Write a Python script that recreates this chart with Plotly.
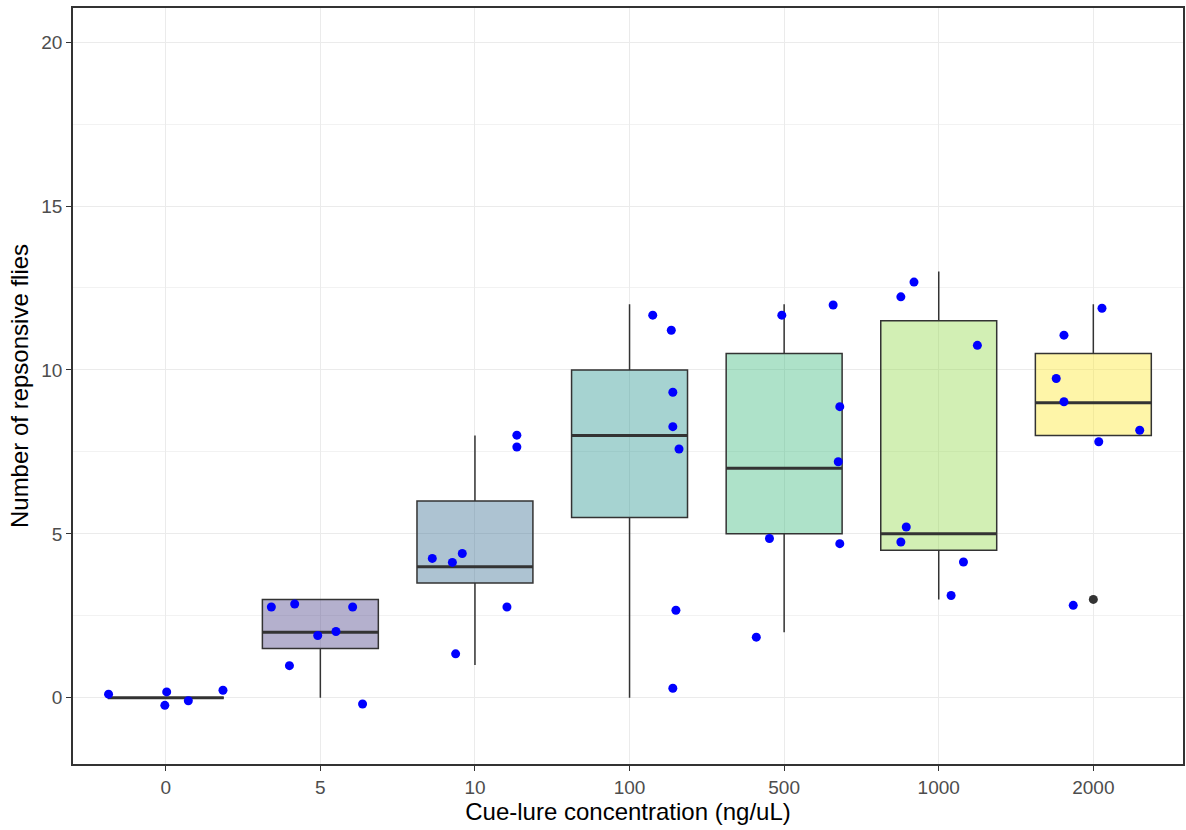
import numpy as np
import plotly.graph_objects as go

# Concentration groups and observed counts of responsive flies
categories = ["0", "5", "10", "100", "500", "1000", "2000"]
counts = {
    "0": [0, 0, 0, 0, 0],
    "5": [0, 1, 2, 2, 3, 3, 3],
    "10": [1, 3, 4, 4, 4, 8, 8],
    "100": [0, 3, 8, 8, 9, 11, 12],
    "500": [2, 5, 5, 7, 9, 12, 12],
    "1000": [3, 4, 5, 5, 11, 12, 13],
    "2000": [3, 8, 8, 9, 10, 11, 12],
}

# Jittered display positions of the individual observations
jitter_dx = {
    "0": [-0.37, 0.006, -0.006, 0.146, 0.37],
    "5": [0.273, -0.2, -0.017, 0.101, -0.317, -0.166, 0.209],
    "10": [-0.125, 0.207, -0.276, -0.146, -0.082, 0.271, 0.271],
    "100": [0.28, 0.30, 0.32, 0.28, 0.28, 0.27, 0.15],
    "500": [-0.18, -0.095, 0.36, 0.35, 0.36, -0.015, 0.317],
    "1000": [0.08, 0.16, -0.245, -0.21, 0.25, -0.245, -0.16],
    "2000": [-0.13, 0.035, 0.30, -0.19, -0.24, -0.19, 0.056],
}
jitter_y = {
    "0": [0.11, 0.18, -0.23, -0.09, 0.23],
    "5": [-0.19, 0.98, 1.90, 2.02, 2.77, 2.86, 2.77],
    "10": [1.34, 2.77, 4.25, 4.13, 4.40, 8.01, 7.65],
    "100": [0.29, 2.67, 7.59, 8.27, 9.32, 11.21, 11.67],
    "500": [1.85, 4.86, 4.70, 7.20, 8.88, 11.67, 11.98],
    "1000": [3.12, 4.14, 4.75, 5.21, 10.75, 12.23, 12.68],
    "2000": [2.82, 7.81, 8.16, 9.03, 9.74, 11.06, 11.88],
}

viridis = ["#440154", "#443A83", "#31688E", "#21908C", "#35B779", "#8FD744", "#FDE725"]
box_width = 0.75
line_col = "#333333"
font_family = "Liberation Sans, Arial, sans-serif"


def rgba(hex_col, a):
    h = hex_col.lstrip("#")
    r, g, b = int(h[0:2], 16), int(h[2:4], 16), int(h[4:6], 16)
    return f"rgba({r},{g},{b},{a})"


fig = go.Figure()

for i, cat in enumerate(categories):
    v = np.array(counts[cat], dtype=float)
    q1, med, q3 = np.percentile(v, [25, 50, 75])
    iqr = q3 - q1
    lo_f, hi_f = q1 - 1.5 * iqr, q3 + 1.5 * iqr
    inside = v[(v >= lo_f) & (v <= hi_f)]
    fig.add_trace(go.Box(
        x=[i], q1=[q1], median=[med], q3=[q3],
        lowerfence=[inside.min()], upperfence=[inside.max()],
        width=box_width, whiskerwidth=0,
        fillcolor=rgba(viridis[i], 0.4),
        line=dict(color=line_col, width=1.5),
        boxpoints=False, hoverinfo="skip", showlegend=False,
    ))
    # thicker median bar
    fig.add_trace(go.Scatter(
        x=[i - box_width / 2, i + box_width / 2], y=[med, med],
        mode="lines", line=dict(color=line_col, width=3),
        hoverinfo="skip", showlegend=False,
    ))
    outliers = v[(v < lo_f) | (v > hi_f)]
    if len(outliers):
        fig.add_trace(go.Scatter(
            x=[i] * len(outliers), y=outliers, mode="markers",
            marker=dict(color=line_col, size=9),
            hoverinfo="skip", showlegend=False,
        ))

# jittered observations
for i, cat in enumerate(categories):
    fig.add_trace(go.Scatter(
        x=[i + d for d in jitter_dx[cat]], y=jitter_y[cat], mode="markers",
        marker=dict(color="#0000FF", size=9),
        showlegend=False,
    ))

axis_common = dict(
    showgrid=True, gridcolor="#EBEBEB", gridwidth=1,
    showline=True, linecolor=line_col, linewidth=1.5, mirror=True,
    ticks="outside", tickcolor=line_col, ticklen=5, tickwidth=1,
    tickfont=dict(family=font_family, size=19, color="#4D4D4D"),
    zeroline=False,
)

fig.update_layout(
    width=1186, height=830,
    margin=dict(l=73, r=1, t=8, b=66),
    plot_bgcolor="white", paper_bgcolor="white",
    font=dict(family=font_family, color="black"),
    xaxis=dict(
        **axis_common, range=[-0.6, 6.58],
        tickmode="array", tickvals=list(range(len(categories))), ticktext=categories,
        title=dict(text="Cue-lure concentration (ng/uL)", font=dict(size=24), standoff=4),
    ),
    yaxis=dict(
        **axis_common, range=[-2.02, 21.04],
        tickvals=[0, 5, 10, 15, 20],
        minor=dict(showgrid=True, gridcolor="#F2F2F2", tickvals=[2.5, 7.5, 12.5, 17.5]),
        title=dict(text="Number of repsonsive flies", font=dict(size=24), standoff=6),
    ),
)

fig.write_html("out.html")
